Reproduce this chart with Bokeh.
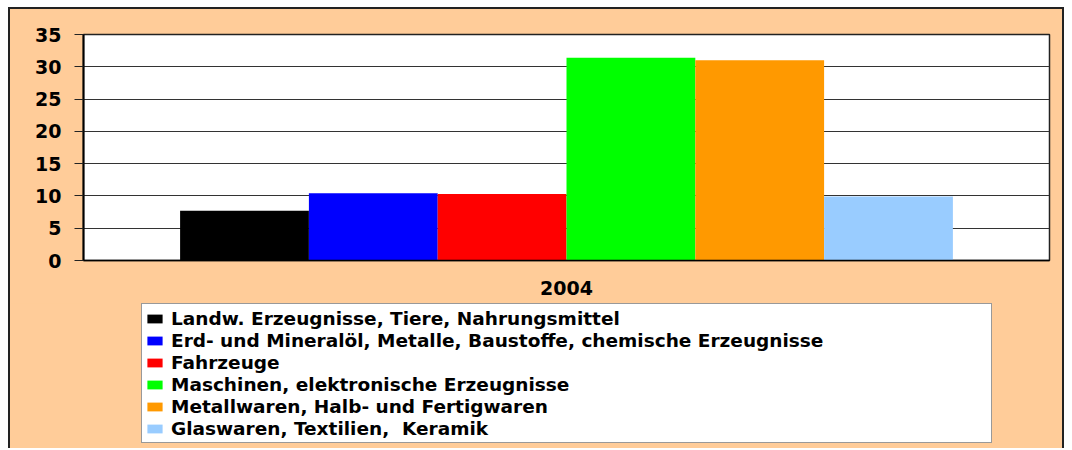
from bokeh.plotting import figure
from bokeh.models import ColumnDataSource, Range1d, SingleIntervalTicker, Legend, LegendItem
from bokeh.layouts import column
from bokeh.transform import dodge
from bokeh.embed import file_html
from bokeh.resources import INLINE

years = ["2004"]
categories = [
    "Landw. Erzeugnisse, Tiere, Nahrungsmittel",
    "Erd- und Mineralöl, Metalle, Baustoffe, chemische Erzeugnisse",
    "Fahrzeuge",
    "Maschinen, elektronische Erzeugnisse",
    "Metallwaren, Halb- und Fertigwaren",
    "Glaswaren, Textilien,  Keramik",
]
values = [7.7, 10.4, 10.3, 31.4, 31.0, 9.9]
colors = ["#000000", "#0000FF", "#FF0000", "#00FF00", "#FF9900", "#99CCFF"]

FONT = "DejaVu Sans"
PEACH = "#FFCC99"
EDGE = "2px solid #222222"

# ---- chart ----
p = figure(
    x_range=years, y_range=Range1d(0, 35),
    width=1056, height=296,
    output_backend="svg", toolbar_location=None,
    min_border_left=73, min_border_right=17, min_border_top=25, min_border_bottom=45,
    background_fill_color="white", border_fill_color=PEACH,
    outline_line_color="#222222", outline_line_width=1.5,
)
p.margin = (7, 0, 0, 8)
p.styles = {"border-left": EDGE, "border-top": EDGE, "border-right": EDGE,
            "background-color": PEACH}

# ---- legend panel ----
q = figure(
    x_range=years, y_range=Range1d(100, 101),
    width=1056, height=145,
    output_backend="svg", toolbar_location=None,
    x_axis_type=None, y_axis_type=None,
    min_border_left=73, min_border_right=17, min_border_top=0, min_border_bottom=0,
    background_fill_alpha=0, border_fill_color=PEACH,
    outline_line_color=None,
)
q.margin = (0, 0, 0, 8)
q.styles = {"border-left": EDGE, "border-right": EDGE, "background-color": PEACH}
q.xgrid.grid_line_color = None
q.ygrid.grid_line_color = None

group_width = 0.8
n = len(categories)
bar_w = group_width / n
items = []
for i, (cat, val, col) in enumerate(zip(categories, values, colors)):
    src = ColumnDataSource(dict(year=years, value=[val]))
    off = -group_width / 2 + bar_w * (i + 0.5)
    p.vbar(x=dodge("year", off, range=p.x_range), top="value", width=bar_w,
           source=src, fill_color=col, line_color=None)
    # same bars in the legend panel (outside its visible range) to key the legend
    r = q.vbar(x=dodge("year", off, range=q.x_range), top="value", width=bar_w,
               source=src, fill_color=col, line_color=None)
    items.append(LegendItem(label=cat, renderers=[r]))

p.yaxis.ticker = SingleIntervalTicker(interval=5)
p.yaxis.major_tick_out = 9
p.yaxis.major_tick_in = 0
p.yaxis.minor_tick_line_color = None
p.yaxis.major_label_standoff = 13
p.yaxis.axis_line_width = 2
p.yaxis.axis_line_color = "black"
p.yaxis.major_tick_line_color = "#222222"
p.yaxis.major_label_text_font = FONT
p.yaxis.major_label_text_font_style = "bold"
p.yaxis.major_label_text_font_size = "19px"
p.yaxis.major_label_text_color = "black"

p.xaxis.major_tick_line_color = None
p.xaxis.axis_line_color = "black"
p.xaxis.axis_line_width = 1.5
p.xaxis.major_label_standoff = 14
p.xaxis.major_label_text_font = FONT
p.xaxis.major_label_text_font_style = "bold"
p.xaxis.major_label_text_font_size = "19px"
p.xaxis.major_label_text_color = "black"

p.xgrid.grid_line_color = None
p.ygrid.grid_line_color = "#333333"
p.ygrid.grid_line_width = 1

legend = Legend(
    items=items,
    location=(58, 5),
    orientation="vertical",
    padding=3, spacing=0, margin=0,
    glyph_width=19, glyph_height=11,
    label_standoff=7, label_height=22, label_width=817,
    label_text_font=FONT, label_text_font_style="bold", label_text_font_size="18.5px",
    label_text_color="black",
    background_fill_color="white", background_fill_alpha=1.0,
    border_line_color="#333333", border_line_width=1.5,
)
q.add_layout(legend, "center")

layout = column(p, q, spacing=0)
open("out.html", "w").write(file_html(layout, INLINE))
